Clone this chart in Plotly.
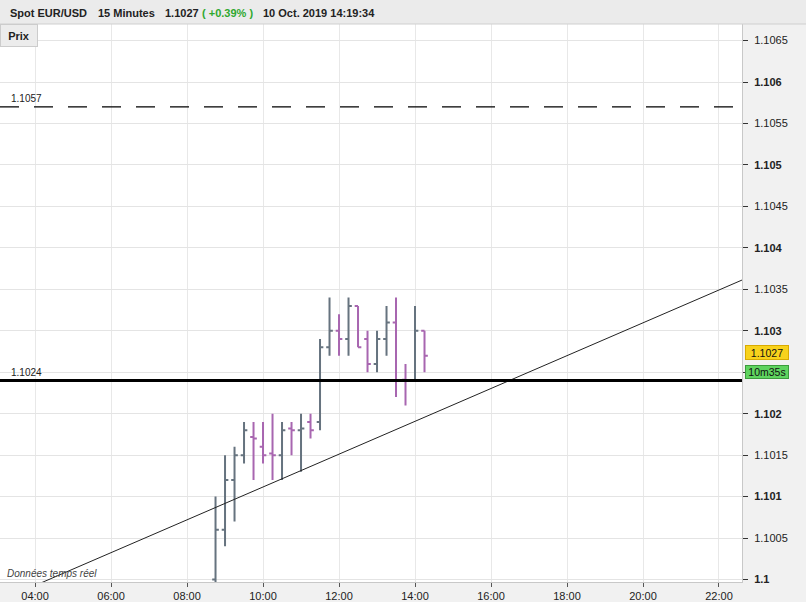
import plotly.graph_objects as go

# ---- data ----
times = ["08:45", "09:00", "09:15", "09:30", "09:45", "10:00", "10:15", "10:30",
         "10:45", "11:00", "11:15", "11:30", "11:45", "12:00", "12:15", "12:30",
         "12:45", "13:00", "13:15", "13:30", "13:45", "14:00", "14:15"]
opens  = [1.1000, 1.1006, 1.1012, 1.1015, 1.10172, 1.1016, 1.10152, 1.1015,
          1.10182, 1.1018, 1.1019, 1.1019, 1.1028, 1.1030, 1.1029, 1.1033,
          1.1029, 1.1026, 1.1029, 1.1031, 1.10241, 1.1024, 1.1030]
highs  = [1.1010, 1.1015, 1.1016, 1.1019, 1.1019, 1.1019, 1.1020, 1.1019,
          1.1019, 1.1020, 1.1020, 1.1029, 1.1034, 1.1032, 1.1034, 1.1033,
          1.1030, 1.1030, 1.1033, 1.1034, 1.1026, 1.1033, 1.1030]
lows   = [1.0999, 1.1004, 1.1007, 1.1014, 1.1012, 1.1014, 1.1012, 1.1012,
          1.1015, 1.1013, 1.1017, 1.1018, 1.1027, 1.1027, 1.1027, 1.1028,
          1.1025, 1.1025, 1.1027, 1.1022, 1.1021, 1.1024, 1.1025]
closes = [1.1006, 1.1012, 1.1015, 1.1018, 1.1017, 1.1015, 1.1015, 1.1018,
          1.1018, 1.10182, 1.1018, 1.1028, 1.1030, 1.1029, 1.1033, 1.1028,
          1.1026, 1.1029, 1.1031, 1.1024, 1.1024, 1.1030, 1.1027]

trend_times = ["03:00", "23:00"]
trend_values = [1.09973, 1.10369]

resistance_level = 1.1057
support_level = 1.1024
last_price = 1.1027

ytick_vals = [1.1, 1.1005, 1.101, 1.1015, 1.102, 1.1025, 1.103, 1.1035,
              1.104, 1.1045, 1.105, 1.1055, 1.106, 1.1065]
# the 1.1025 label is hidden behind the countdown box in the original
ytick_text = ["<b>1.1</b>", "1.1005", "<b>1.101</b>", "1.1015", "<b>1.102</b>", "",
              "<b>1.103</b>", "1.1035", "<b>1.104</b>", "1.1045", "<b>1.105</b>", "1.1055",
              "<b>1.106</b>", "1.1065"]

header_parts = ["Spot EUR/USD", "15 Minutes", "1.1027", "( +0.39% )", "10 Oct. 2019 14:19:34"]
header_colors = ["#222222", "#222222", "#222222", "#2fa82f", "#222222"]

DAY = "2019-10-10 "
x = [DAY + t for t in times]
FONT = "Liberation Sans, Arial, sans-serif"

W, H = 806, 602
ML, MR, MT, MB = 0, 64, 24, 20
PW, PH = W - ML - MR, H - MT - MB


def px(xp):
    return (xp - ML) / PW


def py(yp):
    return (H - MB - yp) / PH


fig = go.Figure()

fig.add_trace(go.Ohlc(
    x=x, open=opens, high=highs, low=lows, close=closes,
    increasing=dict(line=dict(color="#66737f", width=2)),
    decreasing=dict(line=dict(color="#a866b0", width=2)),
    tickwidth=0.35, hoverinfo="skip", showlegend=False,
))

fig.add_trace(go.Scatter(
    x=[DAY + t for t in trend_times], y=trend_values, mode="lines",
    line=dict(color="#222222", width=1), hoverinfo="skip", showlegend=False,
))

shapes = [
    dict(type="rect", xref="paper", yref="paper", x0=px(0), x1=px(W), y0=py(MT), y1=py(0),
         fillcolor="#ebebeb", line=dict(width=0), layer="below"),
    dict(type="line", xref="paper", yref="paper", x0=px(0), x1=px(W), y0=py(MT), y1=py(MT),
         line=dict(color="#cfcfcf", width=1)),
    dict(type="line", xref="paper", yref="y", x0=0, x1=1, y0=resistance_level, y1=resistance_level,
         line=dict(color="#000000", width=1.2, dash="19px,15px")),
    dict(type="line", xref="paper", yref="y", x0=0, x1=1, y0=support_level, y1=support_level,
         line=dict(color="#000000", width=3)),
]

header_x = [8, 96, 163, 200, 261]
annotations = []
for txt, col, hx in zip(header_parts, header_colors, header_x):
    annotations.append(dict(
        xref="paper", yref="paper", x=px(hx), y=py(13), xanchor="left", yanchor="middle",
        showarrow=False, text="<b>" + txt + "</b>",
        font=dict(family=FONT, size=11, color=col)))

annotations += [
    dict(xref="paper", yref="paper", x=px(0), y=py(MT), xanchor="left", yanchor="top",
         showarrow=False, text="<b>Prix</b>", width=34, height=19,
         bgcolor="#ececec", bordercolor="#cccccc", borderwidth=1, borderpad=1,
         font=dict(family=FONT, size=11, color="#222222")),
    dict(xref="paper", yref="y", x=px(9), y=resistance_level, xanchor="left", yanchor="bottom",
         yshift=1, showarrow=False, text="1.1057",
         font=dict(family=FONT, size=10, color="#222222")),
    dict(xref="paper", yref="y", x=px(9), y=support_level, xanchor="left", yanchor="bottom",
         yshift=1, showarrow=False, text="1.1024",
         font=dict(family=FONT, size=10, color="#222222")),
    dict(xref="paper", yref="y", x=px(745), y=last_price, xanchor="left", yanchor="middle",
         yshift=3, showarrow=False, text="1.1027", width=42, height=13,
         bgcolor="#f8d21c", bordercolor="#d9ab00", borderwidth=1, borderpad=0,
         font=dict(family=FONT, size=10.5, color="#111111")),
    dict(xref="paper", yref="paper", x=px(745), y=py(372), xanchor="left", yanchor="middle",
         showarrow=False, text="10m35s", width=42, height=12,
         bgcolor="#5fd45f", bordercolor="#3c9c3c", borderwidth=1, borderpad=0,
         font=dict(family=FONT, size=10.5, color="#111111")),
    dict(xref="paper", yref="paper", x=px(5), y=py(573), xanchor="left", yanchor="middle",
         showarrow=False, text="<i>Données temps réel</i>",
         font=dict(family=FONT, size=10, color="#444444")),
]

fig.update_layout(
    width=W, height=H,
    margin=dict(l=ML, r=MR, t=MT, b=MB, pad=0),
    paper_bgcolor="#f1f1f1", plot_bgcolor="#ffffff",
    font=dict(family=FONT, size=11, color="#222222"),
    shapes=shapes, annotations=annotations,
    showlegend=False, hovermode=False,
)

fig.update_xaxes(
    type="date", range=[DAY + "03:04:40", DAY + "22:36:20"],
    tickformat="%H:%M", dtick=7200000, tick0=DAY + "00:00",
    showgrid=True, gridcolor="#e8e8e8", gridwidth=1,
    ticks="outside", ticklen=4, tickcolor="#555555",
    tickfont=dict(family=FONT, size=11, color="#222222"),
    showline=True, linecolor="#c8c8c8", linewidth=1,
    rangeslider=dict(visible=False), zeroline=False, fixedrange=True,
)

fig.update_yaxes(
    side="right", range=[1.09997, 1.1067],
    tickvals=ytick_vals, ticktext=ytick_text,
    showgrid=True, gridcolor="#e4e4e4", gridwidth=1,
    ticks="outside", ticklen=5, tickcolor="#333333", ticklabelstandoff=4,
    tickfont=dict(family=FONT, size=11, color="#222222"),
    showline=True, linecolor="#c8c8c8", linewidth=1, mirror=True,
    zeroline=False, fixedrange=True,
)

fig.write_html("out.html")
